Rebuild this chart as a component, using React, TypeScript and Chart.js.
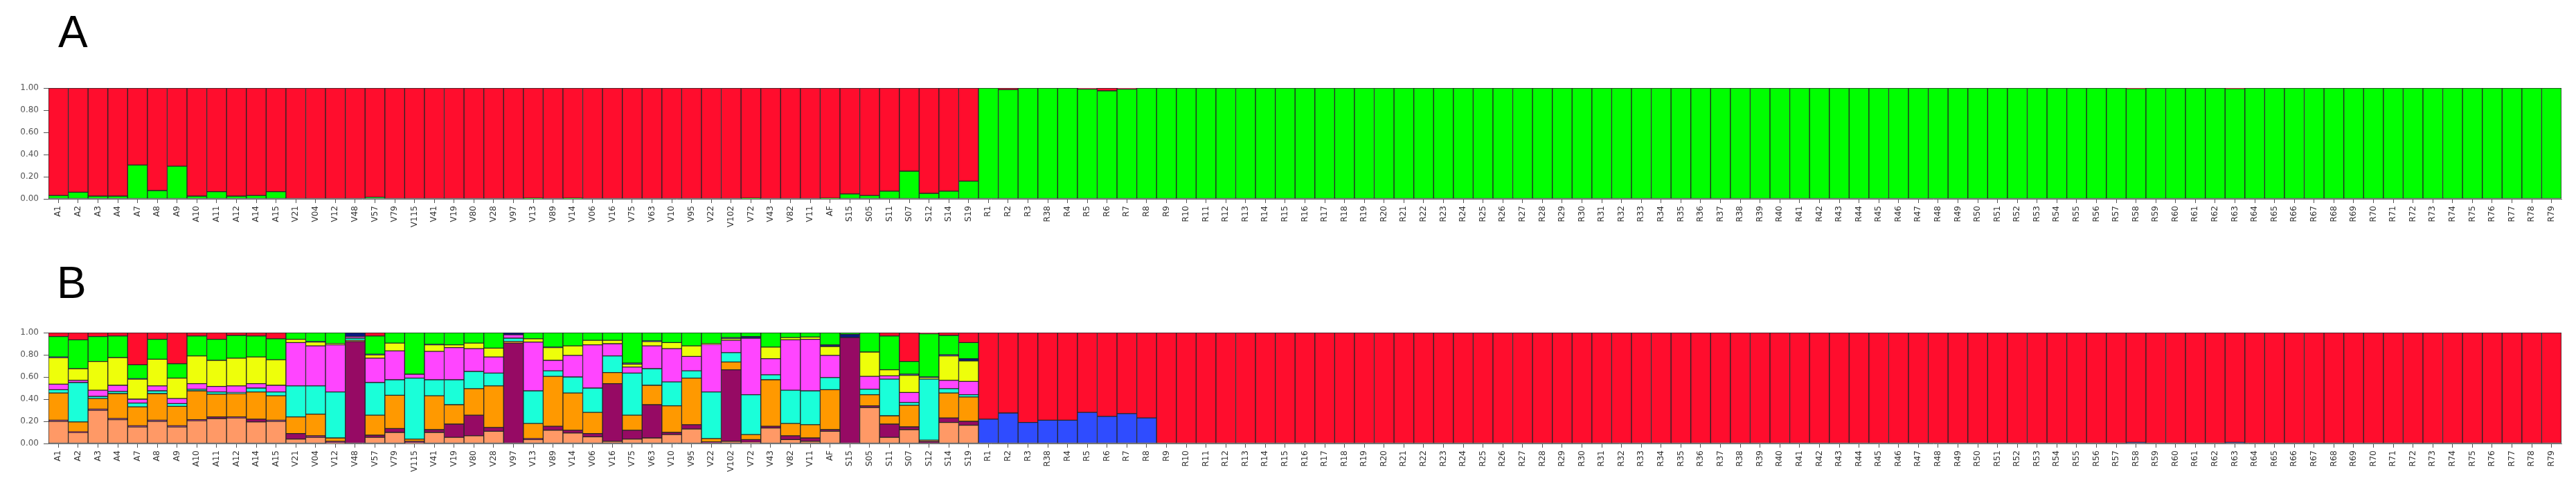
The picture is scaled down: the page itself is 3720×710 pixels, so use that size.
import React, { useEffect, useRef } from "react";
import { Chart, registerables } from "chart.js";
Chart.register(...registerables);

// ---------------- categories ----------------
const labels = [
  "A1","A2","A3","A4","A7","A8","A9","A10","A11","A12","A14","A15",
  "V21","V04","V12","V48","V57","V79","V115","V41","V19","V80","V28","V97","V13","V89","V14","V06","V16","V75","V63","V10","V95","V22","V102","V72","V43","V82","V11",
  "AF",
  "S15","S05","S11","S07","S12","S14","S19",
  "R1","R2","R3","R38","R4","R5","R6","R7","R8",
  "R9","R10","R11","R12","R13","R14","R15","R16","R17","R18",
  "R19","R20","R21","R22","R23","R24","R25","R26","R27","R28",
  "R29","R30","R31","R32","R33","R34","R35","R36","R37","R38",
  "R39","R40","R41","R42","R43","R44","R45","R46","R47","R48",
  "R49","R50","R51","R52","R53","R54","R55","R56","R57","R58",
  "R59","R60","R61","R62","R63","R64","R65","R66","R67","R68",
  "R69","R70","R71","R72","R73","R74","R75","R76","R77","R78",
  "R79",
];

const yTicks = [0, 0.2, 0.4, 0.6, 0.8, 1.0];

// ---------------- panel A (K = 2) ----------------
const aGreen = [
  0.03,0.06,0.025,0.025,0.305,0.075,0.295,0.025,0.065,0.025,0.03,0.065,
  0,0,0,0,0.015,0,0,0,0,0,0,0,0.005,0,0.005,0,0,0,0,0,0,0,0,0.005,0,0,0,
  0.005,
  0.045,0.03,0.07,0.25,0.05,0.07,0.16,
  1,0.985,1,1,1,0.99,0.975,0.99,1,
  1,1,1,1,1,1,1,1,1,1,
  1,1,1,1,1,1,1,1,1,1,
  1,1,1,1,1,1,1,1,1,1,
  1,1,1,1,1,1,1,1,1,1,
  1,1,1,1,1,1,1,1,1,0.995,
  1,1,1,1,0.995,1,1,1,1,1,
  1,1,1,1,1,1,1,1,1,1,
  1,
];
const aRed = [
  0.97,0.94,0.975,0.975,0.695,0.925,0.705,0.975,0.935,0.975,0.97,0.935,
  1,1,1,1,0.985,1,1,1,1,1,1,1,0.995,1,0.995,1,1,1,1,1,1,1,1,0.995,1,1,1,
  0.995,
  0.955,0.97,0.93,0.75,0.95,0.93,0.84,
  0,0.015,0,0,0,0.01,0.025,0.01,0,
  0,0,0,0,0,0,0,0,0,0,
  0,0,0,0,0,0,0,0,0,0,
  0,0,0,0,0,0,0,0,0,0,
  0,0,0,0,0,0,0,0,0,0,
  0,0,0,0,0,0,0,0,0,0.005,
  0,0,0,0,0.005,0,0,0,0,0,
  0,0,0,0,0,0,0,0,0,0,
  0,
];

// ---------------- panel B (K = 10) ----------------
// order in each row: A1..A15 | V21..V11 | AF | S15..S19 | R...
const bBlue = [
  0,0,0,0,0,0,0,0,0,0,0,0,
  0,0,0,0,0,0,0,0,0,0,0,0,0,0,0,0,0,0,0,0,0,0,0,0,0,0,0,
  0,
  0,0,0,0,0,0,0,
  0.22,0.275,0.19,0.21,0.21,0.28,0.245,0.27,0.23,
];
const bSalmon = [
  0.20,0.10,0.30,0.215,0.15,0.20,0.15,0.205,0.225,0.23,0.195,0.20,
  0.04,0.055,0.005,0,0.055,0.10,0.005,0.10,0.055,0.07,0.11,0,0.035,0.12,0.095,0.06,0.02,0.04,0.05,0.08,0.13,0,0.02,0.01,0.14,0.035,0.02,
  0.11,
  0,0.325,0.055,0.125,0,0.19,0.165,
];
const bMaroon = [
  0.01,0.005,0.01,0.01,0.01,0.01,0.01,0.01,0.015,0.01,0.025,0.01,
  0.05,0.015,0.015,0.92,0.02,0.035,0.015,0.025,0.12,0.185,0.035,0.905,0.01,0.035,0.025,0.03,0.52,0.08,0.30,0.02,0.04,0.015,0.645,0.025,0.015,0.035,0.03,
  0.015,
  0.955,0.015,0.12,0.025,0.02,0.04,0.035,
];
const bOrange = [
  0.245,0.09,0.095,0.225,0.17,0.24,0.175,0.26,0.205,0.21,0.245,0.22,
  0.15,0.195,0.03,0.01,0.18,0.30,0.02,0.305,0.175,0.24,0.375,0.015,0.135,0.45,0.335,0.19,0.10,0.135,0.175,0.24,0.42,0.03,0.07,0.045,0.42,0.11,0.12,
  0.36,
  0,0.10,0.075,0.195,0.01,0.225,0.22,
];
const bCyan = [
  0.03,0.355,0.02,0.02,0.035,0.025,0.025,0.015,0.02,0.01,0.035,0.035,
  0.28,0.255,0.415,0.02,0.295,0.14,0.55,0.145,0.225,0.155,0.115,0.03,0.295,0.05,0.145,0.22,0.15,0.38,0.15,0.215,0.065,0.42,0.085,0.36,0.045,0.30,0.305,
  0.11,
  0,0.05,0.33,0.025,0.55,0.04,0.02,
];
const bMagenta = [
  0.05,0.02,0.055,0.055,0.035,0.045,0.045,0.05,0.05,0.06,0.04,0.06,
  0.39,0.36,0.425,0.015,0.22,0.26,0.035,0.255,0.29,0.205,0.145,0.03,0.44,0.095,0.195,0.39,0.11,0.055,0.205,0.30,0.13,0.43,0.11,0.51,0.145,0.455,0.465,
  0.20,
  0,0.115,0.03,0.09,0,0.075,0.12,
];
const bYellow = [
  0.24,0.105,0.26,0.25,0.18,0.24,0.185,0.25,0.235,0.25,0.24,0.23,
  0.03,0.035,0.01,0,0.03,0.07,0,0.06,0.025,0.05,0.08,0,0.03,0.115,0.085,0.04,0.03,0.025,0.04,0.055,0.095,0.005,0.015,0,0.105,0.02,0.02,
  0.08,
  0,0.22,0.055,0.155,0.015,0.22,0.185,
];
const bNavy = [
  0.005,0,0,0,0.005,0,0,0,0,0,0,0,
  0,0.005,0,0.035,0.005,0,0,0.005,0,0,0,0.02,0,0.005,0,0,0,0.01,0.005,0,0,0,0.01,0.015,0,0,0,
  0.015,
  0.03,0,0,0.01,0.005,0.01,0.02,
  0,0,0,0,0,0,0,0,0,
  0,0,0,0,0,0,0,0,0,0,
  0,0,0,0,0,0,0,0,0,0,
  0,0,0,0,0,0,0,0,0,0,
  0,0,0,0,0,0,0,0,0,0,
  0,0,0,0,0,0,0,0,0,0.01,
  0,0,0,0,0.01,
];
const bGreen = [
  0.185,0.26,0.225,0.195,0.125,0.18,0.13,0.18,0.19,0.205,0.19,0.19,
  0.06,0.08,0.10,0,0.165,0.095,0.375,0.105,0.11,0.095,0.14,0,0.055,0.13,0.12,0.07,0.07,0.275,0.075,0.09,0.12,0.10,0.045,0.035,0.13,0.045,0.04,
  0.11,
  0.015,0.175,0.305,0.115,0.39,0.175,0.145,
];
const bRed = [
  0.035,0.065,0.035,0.03,0.29,0.06,0.28,0.03,0.06,0.025,0.03,0.055,
  0,0,0,0,0.03,0,0,0,0,0,0,0,0,0,0,0,0,0,0,0,0,0,0,0,0,0,0,
  0,
  0,0,0.03,0.26,0.01,0.025,0.09,
  0.78,0.725,0.81,0.79,0.79,0.72,0.755,0.73,0.77,
  1,1,1,1,1,1,1,1,1,1,
  1,1,1,1,1,1,1,1,1,1,
  1,1,1,1,1,1,1,1,1,1,
  1,1,1,1,1,1,1,1,1,1,
  1,1,1,1,1,1,1,1,1,0.99,
  1,1,1,1,0.99,1,1,1,1,1,
  1,1,1,1,1,1,1,1,1,1,
  1,
];

const RED = "#FF0D2D";
const GREEN = "#00FF00";

const panelADatasets = [
  { data: aGreen, backgroundColor: GREEN },
  { data: aRed, backgroundColor: RED },
];

const panelBDatasets = [
  { data: bBlue, backgroundColor: "#2F4CFF" },
  { data: bSalmon, backgroundColor: "#FF9966" },
  { data: bMaroon, backgroundColor: "#960A64" },
  { data: bOrange, backgroundColor: "#FF9900" },
  { data: bCyan, backgroundColor: "#1AFFD9" },
  { data: bMagenta, backgroundColor: "#FF45FF" },
  { data: bYellow, backgroundColor: "#EEFF0A" },
  { data: bNavy, backgroundColor: "#0A1A80" },
  { data: bGreen, backgroundColor: GREEN },
  { data: bRed, backgroundColor: RED },
];

function makeConfig(datasets: any[], padTop: number, xAxisH: number): any {
  return {
    type: "bar",
    data: {
      labels,
      datasets: datasets.map((d) => ({
        ...d,
        borderColor: "#262626",
        borderWidth: 1,
        borderSkipped: false,
        barPercentage: 1,
        categoryPercentage: 1,
      })),
    },
    options: {
      responsive: false,
      maintainAspectRatio: false,
      animation: false,
      devicePixelRatio: 1,
      layout: { padding: { top: padTop, left: 0, right: 21, bottom: 0 } },
      plugins: {
        legend: { display: false },
        tooltip: { enabled: false },
        title: { display: false },
      },
      scales: {
        x: {
          stacked: true,
          offset: true,
          grid: {
            display: true,
            drawOnChartArea: false,
            drawTicks: true,
            tickLength: 6,
            offset: false,
            color: "#555555",
          },
          border: { display: true, color: "#666666", width: 1 },
          ticks: {
            autoSkip: false,
            minRotation: 90,
            maxRotation: 90,
            padding: 4,
            color: "#333333",
            font: { family: "DejaVu Sans", size: 12 },
          },
          afterFit: (s: any) => {
            s.height = xAxisH;
          },
        },
        y: {
          stacked: true,
          min: 0,
          max: 1,
          afterBuildTicks: (s: any) => {
            s.ticks = yTicks.map((v) => ({ value: v }));
          },
          grid: {
            display: true,
            drawOnChartArea: false,
            drawTicks: true,
            tickLength: 7,
            color: "#555555",
          },
          border: { display: true, color: "#666666", width: 1 },
          ticks: {
            padding: 7,
            color: "#555555",
            font: { family: "DejaVu Sans", size: 12 },
            callback: (v: any) => Number(v).toFixed(2),
          },
          afterFit: (s: any) => {
            s.width = 70;
          },
        },
      },
    },
  };
}

function Panel(props: { datasets: any[]; top: number; height: number; padTop: number; xAxisH: number }) {
  const ref = useRef<HTMLCanvasElement | null>(null);
  useEffect(() => {
    if (!ref.current) return;
    const chart = new Chart(ref.current, makeConfig(props.datasets, props.padTop, props.xAxisH));
    return () => chart.destroy();
  }, []);
  return (
    <canvas
      ref={ref}
      width={3720}
      height={props.height}
      style={{ position: "absolute", left: 0, top: props.top, width: 3720, height: props.height }}
    />
  );
}

const letterStyle: React.CSSProperties = {
  position: "absolute",
  fontFamily: "'Liberation Sans', Arial, sans-serif",
  fontSize: 64,
  lineHeight: "64px",
  color: "#000",
  margin: 0,
};

export default function App() {
  return (
    <div
      style={{
        position: "fixed",
        left: 0,
        top: 0,
        width: 3720,
        height: 710,
        background: "#ffffff",
        overflow: "hidden",
      }}
    >
      <div style={{ ...letterStyle, left: 84, top: 14 }}>A</div>
      <div style={{ ...letterStyle, left: 82, top: 376 }}>B</div>
      <Panel datasets={panelADatasets} top={0} height={340} padTop={127} xAxisH={53} />
      <Panel datasets={panelBDatasets} top={380} height={330} padTop={100} xAxisH={70} />
    </div>
  );
}
